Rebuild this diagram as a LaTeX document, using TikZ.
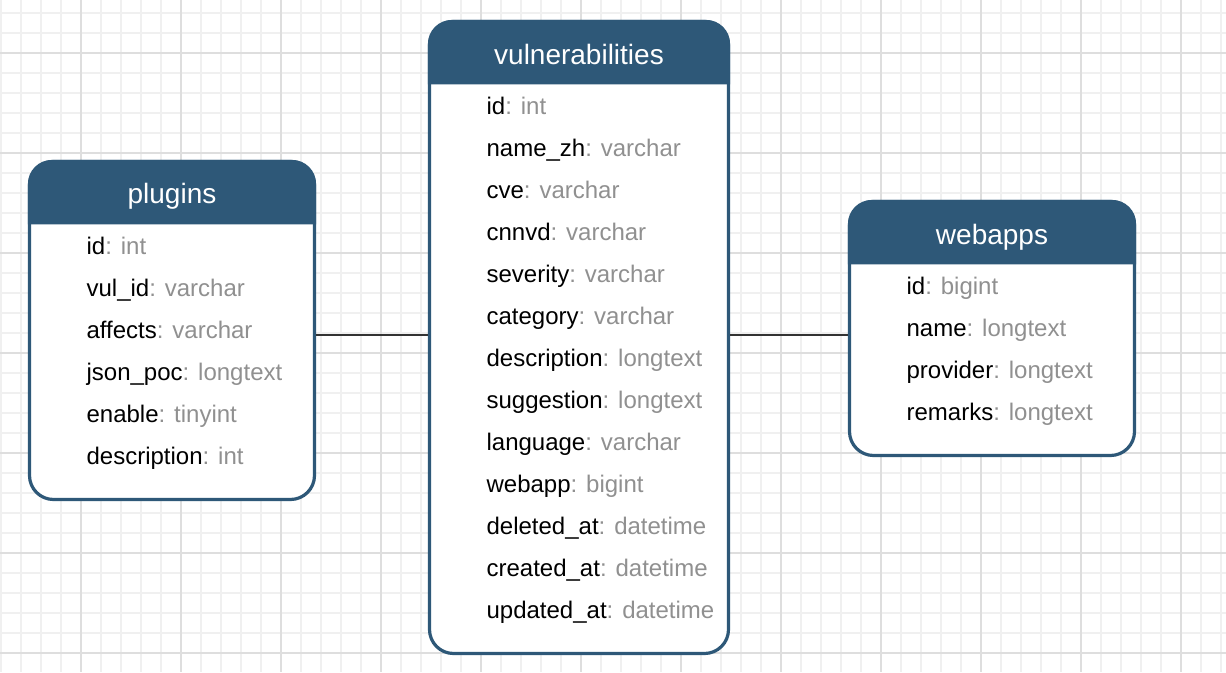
\documentclass[tikz,border=0pt]{standalone}
\usepackage{fontspec}
\setmainfont{Liberation Sans}
\usepackage{tikz}

\definecolor{hdrblue}{RGB}{46,88,120}
\definecolor{typegrey}{RGB}{144,144,144}
\definecolor{linkgrey}{RGB}{51,51,51}
\definecolor{gridminor}{RGB}{240,240,240}
\definecolor{gridmajor}{RGB}{222,222,222}

\begin{document}
\begin{tikzpicture}[x=1pt,y=-1pt,
  minorgrid/.style={draw=gridminor,line width=1.5pt},
  majorgrid/.style={draw=gridmajor,line width=1.5pt},
  table/.style={draw=hdrblue,line width=3.2pt,fill=white,rounded corners=24pt,inner sep=0pt},
  title/.style={text=white,font=\fontsize{28}{32}\selectfont,anchor=base,inner sep=0pt},
  field/.style={text=black,font=\fontsize{24}{28}\selectfont,anchor=base west,inner sep=0pt},
  link/.style={draw=linkgrey,line width=2pt}]
\fill[white] (0,0) rectangle (1226,672);
\useasboundingbox (0,0) rectangle (1226,672);
%\draw[step=20pt,gray,very thin] (0,0) grid (1226,672);
\foreach \x in {1,21,...,1221} \draw[minorgrid] (\x,0) -- (\x,672);
\foreach \y in {13,33,...,653} \draw[minorgrid] (0,\y) -- (1226,\y);
\foreach \x in {81,181,...,1181} \draw[majorgrid] (\x,0) -- (\x,672);
\foreach \y in {53,153,...,653} \draw[majorgrid] (0,\y) -- (1226,\y);

\node[table,minimum width=285pt,minimum height=338pt] (plugins) at (172,330.5) {};
\node[table,minimum width=299pt,minimum height=632pt] (vulnerabilities) at (579,337.5) {};
\node[table,minimum width=285pt,minimum height=254pt] (webapps) at (992,328.5) {};

\foreach \t in {plugins,vulnerabilities,webapps}
  \fill[hdrblue] ([yshift=-64.5]\t.north west) [rounded corners=24pt] -- (\t.north west) -- (\t.north east) [sharp corners] -- ([yshift=-64.5]\t.north east) -- cycle;

\node[title] (plugins-title) at ([yshift=-44]plugins.north) {plugins};
\node[title] (vulnerabilities-title) at ([yshift=-44.5]vulnerabilities.north) {vulnerabilities};
\node[title] (webapps-title) at ([yshift=-45]webapps.north) {webapps};

\foreach \n/\f [count=\i from 0, evaluate=\i as \dy using -94.5-42*\i] in
  {id/int, vul\_id/varchar, affects/varchar, json\_poc/longtext, enable/tinyint, description/int}
  \node[field] (plugins-\i) at ([xshift=58.5,yshift=\dy]plugins.north west) {\n\textcolor{typegrey}{: \f}};

\foreach \n/\f [count=\i from 0, evaluate=\i as \dy using -94.5-42*\i] in
  {id/int, name\_zh/varchar, cve/varchar, cnnvd/varchar, severity/varchar, category/varchar,
   description/longtext, suggestion/longtext, language/varchar, webapp/bigint,
   deleted\_at/datetime, created\_at/datetime, updated\_at/datetime}
  \node[field] (vulnerabilities-\i) at ([xshift=58.5,yshift=\dy]vulnerabilities.north west) {\n\textcolor{typegrey}{: \f}};

\foreach \n/\f [count=\i from 0, evaluate=\i as \dy using -95-42*\i] in
  {id/bigint, name/longtext, provider/longtext, remarks/longtext}
  \node[field] (webapps-\i) at ([xshift=58.5,yshift=\dy]webapps.north west) {\n\textcolor{typegrey}{: \f}};

\coordinate (left-link) at ([yshift=2.8]vulnerabilities.west);
\coordinate (right-link) at ([yshift=2.8]vulnerabilities.east);
\draw[link] (left-link -| plugins.east) -- (left-link);
\draw[link] (right-link) -- (right-link -| webapps.west);

\end{tikzpicture}
\end{document}
